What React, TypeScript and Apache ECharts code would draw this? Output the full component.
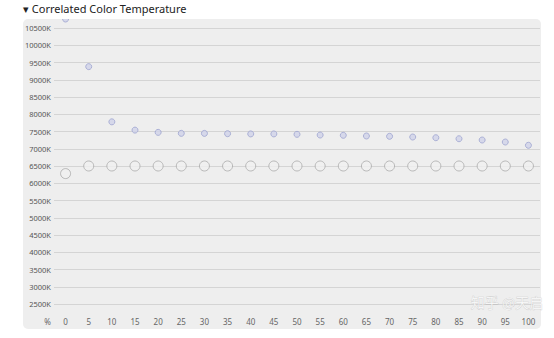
import React, { useEffect, useRef } from "react";
import * as echarts from "echarts";

const categories = ["0","5","10","15","20","25","30","35","40","45","50","55","60","65","70","75","80","85","90","95","100"];
const cctMeasured = [10760,9380,7780,7540,7475,7447,7445,7437,7430,7430,7418,7398,7390,7370,7360,7340,7320,7290,7253,7195,7100];
const cctTarget = [6280,6500,6500,6500,6500,6500,6500,6500,6500,6500,6500,6500,6500,6500,6500,6500,6500,6500,6500,6500,6500];
const yMin = 2500;
const yMax = 10500;
const yStep = 500;

const FONT = "'Noto Sans', 'Open Sans', sans-serif";

export default function App() {
  const ref = useRef<HTMLDivElement>(null);
  useEffect(() => {
    if (!ref.current) return;
    const chart = echarts.init(ref.current, undefined, { renderer: "svg" });
    chart.setOption({
      animation: false,
      backgroundColor: "#ffffff",
      textStyle: { fontFamily: FONT },
      grid: { left: 54, right: 14, top: 28, bottom: 34, containLabel: false },
      xAxis: {
        type: "category",
        data: categories,
        boundaryGap: true,
        axisLine: { show: false },
        axisTick: { show: false },
        axisLabel: { color: "#666", fontSize: 8, margin: 13, fontFamily: FONT },
        splitLine: { show: false },
      },
      yAxis: {
        type: "value",
        min: yMin,
        max: yMax,
        interval: yStep,
        axisLine: { show: false },
        axisTick: { show: false },
        axisLabel: { color: "#555", fontSize: 7.5, margin: 3, formatter: (v: number) => `${v}K`, fontFamily: FONT },
        splitLine: { lineStyle: { color: "#d4d4d4", width: 1 } },
      },
      graphic: [
        { type: "rect", z: -10, shape: { x: 23, y: 19, width: 518, height: 310, r: 5 }, style: { fill: "#eeeeee" }, silent: true },
        { type: "rect", z: 100, shape: { x: 0, y: 0, width: 554, height: 19 }, style: { fill: "#ffffff" }, silent: true },
        { type: "text", z: 101, x: 23, y: 8, style: { text: "▾ Correlated Color Temperature", fill: "#222", font: `11px ${FONT}`, textVerticalAlign: "middle" } },
        { type: "text", z: 5, x: 51, y: 321, style: { text: "%", fill: "#666", font: `8px ${FONT}`, textAlign: "right", textVerticalAlign: "middle" } },
        { type: "text", z: 50, x: 507, y: 302, style: { text: "知乎 @天启", fill: "rgba(255,255,255,0.75)", stroke: "rgba(170,170,170,0.55)", lineWidth: 0.6, font: `14px 'Noto Sans CJK SC', sans-serif`, textAlign: "center", textVerticalAlign: "middle" } },
      ],
      series: [
        {
          type: "scatter",
          data: cctTarget,
          symbol: "circle",
          symbolSize: 10,
          clip: false,
          itemStyle: { color: "#f0f0f0", borderColor: "#aaaaaa", borderWidth: 1 },
          z: 3,
        },
        {
          type: "scatter",
          data: cctMeasured,
          symbol: "circle",
          symbolSize: 6,
          clip: false,
          itemStyle: { color: "#cfd2e8", borderColor: "#9ea4cf", borderWidth: 1 },
          z: 4,
        },
      ],
    });
    return () => chart.dispose();
  }, []);
  return <div ref={ref} style={{ position: "fixed", left: 0, top: 0, width: 554, height: 338 }} />;
}
